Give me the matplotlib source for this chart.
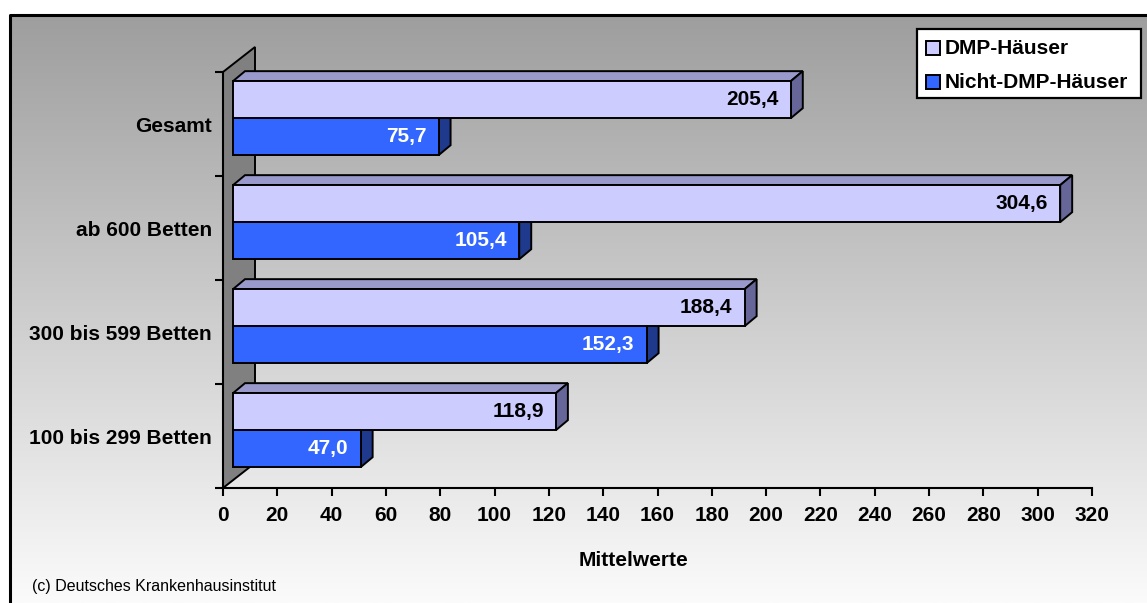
import numpy as np
import matplotlib
matplotlib.use('Agg')
import matplotlib.pyplot as plt
from matplotlib.patches import Polygon, Rectangle

plt.rcParams['font.family'] = ['Liberation Sans', 'DejaVu Sans']

# categories listed bottom to top, as drawn
categories = ['100 bis 299 Betten', '300 bis 599 Betten', 'ab 600 Betten', 'Gesamt']
dmp_values = [118.9, 188.4, 304.6, 205.4]
nicht_dmp_values = [47.0, 152.3, 105.4, 75.7]
series_names = ['DMP-Häuser', 'Nicht-DMP-Häuser']
x_ticks = list(range(0, 321, 20))

W, H = 1147, 603
fig = plt.figure(figsize=(W / 100, H / 100), dpi=100)

# background: grey-to-white gradient inside a black frame
bg = fig.add_axes([0, 0, 1, 1])
bg.set_xlim(0, W)
bg.set_ylim(H, 0)
bg.axis('off')
grad = np.linspace(158, 251, 256)[:, None] / 255.0
bg.imshow(np.dstack([grad, grad, grad]), extent=(10, W, H, 15), aspect='auto', zorder=0)
bg.plot([10, 10, W], [H, 15, 15], color='black', lw=2.2, zorder=1, solid_capstyle='butt')

# plot area in pixels
ax_left, ax_right, ax_top, ax_bottom = 223, 1092, 72, 488
ax = fig.add_axes([ax_left / W, (H - ax_bottom) / H, (ax_right - ax_left) / W, (ax_bottom - ax_top) / H])
ax.set_xlim(0, 320)
ax.set_ylim(0, 4)
ax.patch.set_alpha(0)

ux = 320 / (ax_right - ax_left)   # data units per pixel, x
uy = 4 / (ax_bottom - ax_top)     # data units per pixel, y

# side wall
wx, wy = 32 * ux, 25 * uy
ax.add_patch(Polygon([(0, 0), (0, 4), (wx, 4 + wy), (wx, wy)], closed=True,
                     facecolor='#808080', edgecolor='black', lw=1.4, zorder=1, clip_on=False))

front_dx = 10 * ux
depth_dx, depth_dy = 12 * ux, 10 * uy
bar_h = 0.356
blue_off = 0.2
edge = dict(edgecolor='black', lw=1.4, joinstyle='miter', clip_on=False)


def bar3d(y0, value, front, top, side, z):
    x0 = front_dx
    x1 = value + front_dx
    y1 = y0 + bar_h
    ax.add_patch(Polygon([(x0, y1), (x1, y1), (x1 + depth_dx, y1 + depth_dy), (x0 + depth_dx, y1 + depth_dy)],
                         closed=True, facecolor=top, zorder=z, **edge))
    ax.add_patch(Polygon([(x1, y0), (x1 + depth_dx, y0 + depth_dy), (x1 + depth_dx, y1 + depth_dy), (x1, y1)],
                         closed=True, facecolor=side, zorder=z, **edge))
    ax.add_patch(Rectangle((x0, y0), value, bar_h, facecolor=front, zorder=z + 0.1, **edge))
    return x1, y0 + bar_h / 2


def fmt(v):
    return f'{v:.1f}'.replace('.', ',')


for i in range(len(categories)):
    yb = i + blue_off
    xr, yc = bar3d(yb, nicht_dmp_values[i], '#3366FF', '#2A50C8', '#1F3A8C', 2 + i)
    ax.text(xr - 12 * ux, yc, fmt(nicht_dmp_values[i]), ha='right', va='center',
            color='white', fontsize=15, fontweight='bold', zorder=10)
    xr, yc = bar3d(yb + bar_h, dmp_values[i], '#CCCCFF', '#9999CC', '#666699', 2.5 + i)
    ax.text(xr - 12 * ux, yc, fmt(dmp_values[i]), ha='right', va='center',
            color='black', fontsize=15, fontweight='bold', zorder=10)

# axes and ticks
for s in ['top', 'right']:
    ax.spines[s].set_visible(False)
for s in ['left', 'bottom']:
    ax.spines[s].set_linewidth(1.5)
    ax.spines[s].set_zorder(1.5)
ax.set_xticks(x_ticks)
ax.set_xticklabels([str(t) for t in x_ticks], fontsize=15, fontweight='bold')
ax.tick_params(axis='x', length=6, width=1.5, pad=7)
ax.set_yticks(range(5))
ax.set_yticklabels([])
ax.set_yticks(np.arange(len(categories)) + 0.5, minor=True)
ax.set_yticklabels(categories, minor=True, fontsize=15, fontweight='bold')
ax.tick_params(axis='y', which='major', length=6, width=1.5)
ax.tick_params(axis='y', which='minor', length=0, pad=8)

fig.text(633 / W, 1 - 560 / H, 'Mittelwerte', ha='center', va='center', fontsize=15, fontweight='bold')
fig.text(32 / W, 1 - 587 / H, '(c) Deutsches Krankenhausinstitut', ha='left', va='center', fontsize=11.5)

# legend box
bg.add_patch(Rectangle((917, 29), 224, 69, facecolor='white', edgecolor='black', lw=1.6, zorder=5))
for name, color, yy in zip(series_names, ['#CCCCFF', '#3366FF'], [48, 82]):
    bg.add_patch(Rectangle((926, yy - 7), 14, 14, facecolor=color, edgecolor='black', lw=1.4, zorder=6))
    bg.text(945, yy, name, ha='left', va='center', fontsize=15, fontweight='bold', zorder=7)

fig.savefig('out.png', dpi=100)
